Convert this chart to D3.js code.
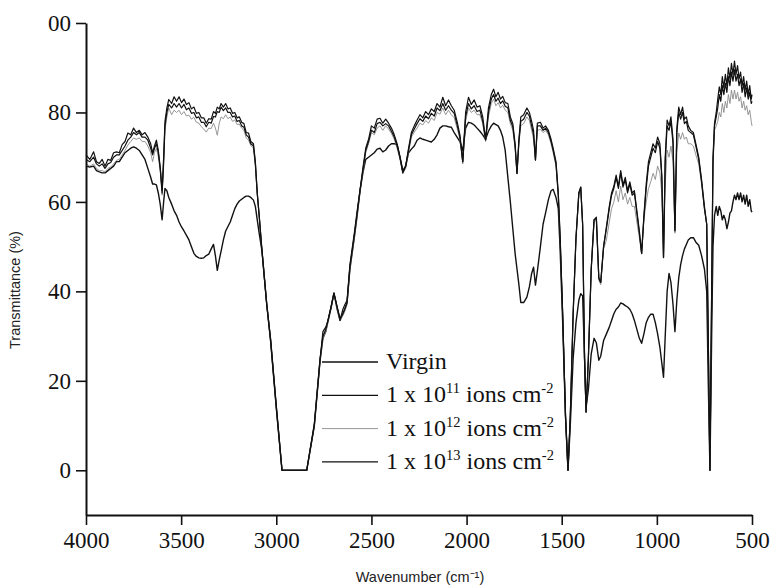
<!DOCTYPE html>
<html>
<head>
<meta charset="utf-8">
<script src="https://cdn.jsdelivr.net/npm/d3@7"></script>
<style>
  body { margin: 0; background: #fff; }
  svg { display: block; }
</style>
</head>
<body>
<div id="chart"></div>
<script>
const d3 = window.d3;

// wavenumber grid (cm-1), descending, shared by all four spectra
const wavenumbers = [
  4000, 3980, 3960, 3945, 3930, 3915, 3900, 3885, 3870, 3855, 3840, 3825, 3810, 3795, 3780, 3765, 3750, 3735, 3720, 3705, 3690, 3675, 3660, 3650, 3640, 3630, 3620, 3610, 3600, 3592, 3585, 3575, 3565,
  3550, 3537, 3524, 3511, 3498, 3485, 3472, 3459, 3446, 3433, 3420, 3407, 3394, 3381, 3368, 3355, 3342, 3330, 3320, 3310, 3300, 3290, 3278, 3266, 3254, 3242, 3230, 3218, 3206, 3194, 3182, 3170, 3158, 3146, 3134, 3120,
  3110, 3100, 3090, 3075, 3050, 3030, 3000, 2970, 2840, 2800, 2770, 2755, 2740, 2728, 2712, 2697, 2680, 2665, 2650, 2640, 2628, 2613, 2590, 2575, 2560,
  2545, 2530, 2515, 2500, 2485, 2470, 2455, 2440, 2425, 2410, 2395, 2380, 2365, 2350, 2335, 2320, 2305, 2290, 2275, 2260, 2245, 2230, 2215, 2200, 2185, 2170, 2155, 2140, 2125, 2110, 2095, 2080, 2065, 2050, 2035, 2020,
  2005, 1990, 1975, 1960, 1945, 1930, 1915, 1900, 1885, 1870, 1858, 1846, 1834, 1822, 1810, 1797, 1783, 1770, 1757, 1745, 1735, 1725, 1715, 1700, 1683, 1670, 1658, 1648, 1638, 1628, 1612, 1598, 1585, 1570, 1556, 1545,
  1530, 1518, 1508, 1495, 1480, 1467, 1455, 1440, 1425, 1410, 1400, 1390, 1380, 1372, 1360, 1345, 1330, 1318, 1305, 1295, 1280, 1265, 1250, 1238, 1226, 1214, 1202, 1190, 1178, 1166, 1154, 1142, 1130, 1118, 1105, 1092, 1080,
  1068, 1056, 1044, 1032, 1020, 1008, 996, 984, 974, 965, 956, 946, 936, 926, 915, 905, 895, 885, 875, 865, 855, 845, 835, 822, 808, 795, 780, 765, 750, 738, 730, 721,
  712, 705, 697, 688, 680, 672, 664, 656, 648, 640, 632, 624, 616, 608, 600, 592, 584, 576, 568, 560, 552, 544, 536, 528, 520, 512, 504, 500,
];

// transmittance (%) per spectrum
const virgin = [
  70.5, 69.5, 71.2, 69, 68.6, 69.5, 68, 69.5, 69.3, 71, 71.2, 71, 72.8, 73.5, 75.4, 75, 76.5, 75.5, 76, 75, 75.5, 74.5, 73, 71, 72.5, 73.8, 71.5, 67.8, 62.6, 70, 78, 81, 82.9,
  82, 83.5, 82.5, 83.5, 82.2, 83, 81.8, 82.2, 80.8, 81.2, 79.8, 80, 78.8, 78.8, 77.6, 78.6, 78.5, 80.2, 79.8, 81.2, 80.8, 82, 81.2, 82, 80.8, 81, 79.8, 80, 78.8, 79, 77.8, 77.5, 75.5, 75.4, 73.5, 73,
  69, 62, 57, 49, 37, 29, 14, 0, 0, 10, 24.6, 31, 32, 33.5, 36.5, 39.6, 36.5, 33.5, 36, 37, 38, 46, 53, 58, 62.6,
  67.5, 72, 74, 77, 76.5, 78.5, 78.7, 77.6, 78.5, 77.6, 76.5, 75, 73, 70, 66.5, 68, 72, 75.5, 77, 78.3, 79.5, 78.8, 80.2, 79.5, 80.8, 80.2, 82, 81.2, 83.4, 81.5, 82.8, 81.5, 80.5, 78, 75, 69,
  80, 83.4, 81.8, 82.8, 81.2, 81.5, 79, 74, 81, 84, 85.2, 83.5, 84.5, 83, 83.6, 82.2, 82, 79, 77.5, 73, 66.4, 74, 79, 79.5, 81, 80, 78, 76, 69.4, 77.6, 77.8, 76.5, 77, 76, 74, 72,
  69, 62, 52, 35, 12, 0, 12, 35, 52, 62, 63.3, 55, 25, 13, 25, 45, 56, 56.6, 43, 42, 50, 54.5, 59, 62, 63.5, 66, 63.5, 67, 63.8, 65.5, 62.5, 64.5, 62, 62.5, 58, 53.5, 48.5,
  57, 64, 69, 71, 73, 72, 74.5, 73, 66, 47.6, 70, 78.3, 77, 79, 74, 53.7, 76.5, 81.2, 79.5, 81.2, 78.5, 79, 77, 76, 75.5, 73, 70, 65, 59, 55, 30, 0,
  40, 70, 77.6, 80, 83, 85.7, 84, 88, 85.5, 88.5, 86, 90, 87.5, 91, 88.5, 91.5, 88.5, 90.5, 87.5, 89, 86, 88, 85, 87, 84, 86, 83, 84,
];
const dose11 = [
  69.5, 69, 70, 68.5, 68, 68.5, 67.5, 68.5, 68.8, 70, 70.5, 70.5, 71.5, 72.5, 73.8, 74.5, 75.5, 75, 75.5, 74.5, 74.5, 73.8, 72, 70.5, 72, 73, 71, 67.5, 62, 69, 77, 80, 81.8,
  81, 82, 81.2, 82, 81, 81.8, 80.6, 81, 79.8, 80, 78.8, 79, 77.8, 77.8, 76.8, 77.8, 77.6, 79.1, 79, 80.2, 80, 81.2, 80.4, 81, 80, 80, 79, 79.2, 78, 78.2, 77, 76.7, 75, 74.5, 73, 72.5,
  68.5, 62, 57, 49, 37, 29.5, 14.5, 0, 0, 10.5, 25, 30, 31.5, 33.5, 36.5, 39.6, 36.5, 34, 35, 36, 37.5, 45.5, 52.5, 57.5, 62.5,
  67, 71.5, 73.5, 76, 75.5, 77.5, 77.8, 77, 77.5, 77, 75.8, 74.5, 72.5, 70, 66.7, 68, 71.5, 75, 76.3, 77.5, 78.6, 78, 79.2, 78.6, 79.8, 79.2, 81, 80.4, 82, 80.5, 81.5, 80.5, 79.8, 77.3, 74.5, 69,
  79, 82, 80.8, 81.5, 80.2, 80.5, 78, 73.8, 80, 83, 84, 82.5, 83.2, 82, 82.6, 81.4, 81, 78.2, 76.8, 72.5, 66.4, 73.5, 78, 78.5, 80, 79.2, 77, 75, 69.4, 77, 77, 76, 76.5, 75.5, 73.5, 71.5,
  68.5, 61.5, 51.5, 35, 12, 0, 12, 35, 52, 62, 63.3, 55, 25, 13, 25, 45, 56, 56.3, 43, 42, 50, 54, 58.5, 61.5, 63, 65.5, 63, 66.5, 63.3, 65, 62, 64, 61.5, 62, 57.5, 53, 48.5,
  56.5, 63, 68, 70, 72, 71, 73.5, 72, 65.5, 47.6, 69, 77, 76, 78, 73, 53.5, 75.5, 80, 78.5, 80, 77.5, 78, 76, 75.5, 75, 72.5, 69.5, 64.5, 58.5, 55, 30, 0,
  40, 69, 77, 79, 81, 84, 82.5, 86, 84, 86.5, 84.5, 88, 86, 89, 87, 89.5, 87, 88.5, 86, 87.5, 84.5, 86.5, 83.5, 85.5, 83, 84.5, 82, 82.5,
];
const dose12 = [
  68.5, 68, 68.5, 67.5, 67, 67, 66.7, 67.5, 67.8, 68.5, 69.3, 69.5, 70.5, 71.5, 72.7, 73.5, 74.3, 74, 74.3, 73.5, 73.5, 72.5, 71, 69, 71, 72, 70, 67, 61.5, 68, 76, 79, 81,
  79.5, 80.5, 80, 80.5, 79.5, 80.2, 79.2, 79.4, 78.5, 78.9, 77.8, 77.6, 76.8, 76.3, 75.6, 76.5, 76.4, 77.6, 76.5, 74.9, 77.5, 79, 78.6, 79.5, 78.6, 79, 78, 78.3, 77.3, 77.4, 76.5, 76, 74.3, 73.8, 72.6, 72,
  68, 61.5, 57, 49, 37, 29, 14, 0, 0, 10, 24.5, 29.5, 31, 33, 36, 39.3, 36, 33.5, 34.5, 35.5, 37, 45, 52, 57, 62,
  66.5, 71, 73, 75.5, 75, 76.5, 77, 76, 77, 76.3, 75.3, 74, 72, 69.5, 66.3, 67.5, 71, 74.5, 75.6, 76.5, 77.6, 77.2, 78.2, 77.6, 78.8, 78.2, 80, 79.6, 81, 79.5, 80.5, 79.5, 78.8, 76.5, 74, 68.5,
  78, 81, 80, 80.5, 79.5, 79.5, 77.5, 73.5, 79, 82, 83, 81.5, 82.2, 81, 81.6, 80.5, 80, 77.5, 76, 72, 66.2, 73, 77, 77.5, 79, 78.2, 76, 74, 69.2, 76, 76.2, 75.5, 76, 75, 73, 71,
  68, 61, 51, 35, 12, 0, 12, 34.5, 51.5, 61.5, 63, 54.5, 25, 13, 25, 44.5, 55.5, 56, 42.5, 41.5, 49.5, 51.5, 55.5, 58.5, 60, 62.5, 60, 63.5, 60.5, 62, 59.5, 61, 59, 59, 55.5, 52, 48.3,
  56, 60, 63, 64.5, 66.4, 65, 68, 66.5, 62, 47.4, 64, 71.6, 70, 72.5, 69, 53, 71, 75.4, 74, 75.5, 74, 74.5, 73, 73, 72.5, 70.5, 68.5, 64, 58.5, 55, 30, 0,
  40, 68, 76, 77, 78, 80, 79, 82, 80, 82.5, 81, 84, 82, 85, 83, 85, 83, 84.5, 82.5, 83.5, 81, 82.5, 80.5, 81.5, 79.5, 80.5, 78, 77,
];
const dose13 = [
  68, 67.8, 68, 67, 66.7, 66.5, 66.5, 67, 67.5, 68, 69, 69, 70, 71, 71.5, 72, 72.3, 72, 71.5, 70.5, 69.5, 67.5, 65.5, 64, 64, 63.8, 62, 59.5, 56, 60, 63, 62.5, 61,
  59.5, 58, 57, 55.5, 54.4, 53.5, 52.5, 51.5, 50, 48.5, 47.8, 47.5, 47.4, 47.5, 48, 48.3, 49.5, 50.5, 48, 44.7, 47, 49, 51.5, 53.5, 54.5, 55.5, 57, 58.5, 59.5, 60.2, 60.6, 61, 61.3, 61.3, 61, 60.4,
  59, 56, 53, 49, 37, 29, 14, 0, 0, 10, 24.5, 29.5, 31, 33.5, 36.5, 39.6, 36, 33.5, 35, 36, 37.5, 45, 52, 57, 62.5,
  66.5, 69.5, 70, 70.5, 71, 71.8, 72, 71.2, 71.6, 72.5, 73, 73, 72.8, 70, 67, 68, 71, 71.8, 72.5, 73.8, 74.3, 74, 73.8, 73.6, 73.4, 74, 75, 76.5, 77, 77, 76.8, 76.7, 75.5, 74.5, 73.5, 71.5,
  76.5, 77.8, 77.6, 77.2, 76.5, 75.8, 75, 74, 75.8, 77, 77.6, 77.3, 77, 76, 74.5, 71.5, 65.5, 60, 54, 48.5, 45, 41.5, 37.5, 37.5, 38.7, 41, 44, 45.4, 41.4, 44.5, 50, 55, 57.5, 60.5, 62.5, 62.8,
  61, 58.5, 49, 33, 12, 0, 10, 25, 33, 38, 39.5, 39, 25, 14, 18, 26, 29.5, 28.5, 24.6, 25.5, 29, 30.5, 32, 33.5, 35, 36, 36.5, 37.4, 37.2, 36.8, 36.5, 36, 35, 33.5, 31.5, 29.5, 28.4,
  30.5, 33, 34.2, 34.9, 34.9, 33, 30.5, 27.5, 24, 20.8, 30, 40, 44, 42, 37, 31, 38, 43, 46, 48, 49.5, 50.5, 51.5, 52, 52, 51, 50.3, 48, 45, 40, 20, 0,
  30, 50, 57, 59, 57, 59, 58, 56, 57, 56, 54, 55.5, 57.5, 58, 60, 61.5, 60.5, 62, 60.5, 62, 60, 61.5, 59.5, 61.5, 59, 60.5, 58, 57.7,
];

const seriesNames = ["Virgin", "1 x 10|11| ions cm|-2", "1 x 10|12| ions cm|-2", "1 x 10|13| ions cm|-2"];
const xMajorTicks = [4000, 3500, 3000, 2500, 2000, 1500, 1000, 500];
const yMajorTicks = [0, 20, 40, 60, 80, 100];

const W = 771;
const H = 586;
const serif = "'Liberation Serif', 'Times New Roman', serif";
const sans = "'Liberation Sans', Arial, sans-serif";

const series = [
  { name: seriesNames[3], values: dose13, stroke: "#111", width: 1.4 },
  { name: seriesNames[2], values: dose12, stroke: "#8a8a8a", width: 0.9 },
  { name: seriesNames[1], values: dose11, stroke: "#111", width: 1.2 },
  { name: seriesNames[0], values: virgin, stroke: "#111", width: 1.2 },
];

const x = d3.scaleLinear().domain([4000, 500]).range([86, 752]);
const y = d3.scaleLinear().domain([-10, 100]).range([515, 23]);

const svg = d3.select("#chart").append("svg").attr("width", W).attr("height", H);
svg.append("rect").attr("width", W).attr("height", H).attr("fill", "#fff");

drawSpectra();
drawAxes();
drawLegend();

function drawSpectra() {
  const line = d3
    .line()
    .x((d) => x(d[0]))
    .y((d) => y(d[1]));
  const g = svg.append("g").attr("fill", "none").attr("stroke-linejoin", "round");
  for (const s of series) {
    const pts = wavenumbers.map((w, i) => [w, s.values[i]]).filter((p) => Number.isFinite(p[1]));
    g.append("path").attr("d", line(pts)).attr("stroke", s.stroke).attr("stroke-width", s.width);
  }
}

function drawAxes() {
  const xMinor = d3.range(4000, 499, -100).filter((v) => !xMajorTicks.includes(v));
  const yMinor = d3.range(-10, 101, 5).filter((v) => !yMajorTicks.includes(v));

  const gx = svg.append("g").attr("transform", `translate(0,${y(-10)})`);
  gx.call(d3.axisBottom(x).tickValues(xMinor).tickSize(6).tickSizeOuter(0).tickFormat(""));
  gx.call(d3.axisBottom(x).tickValues(xMajorTicks).tickSize(10).tickSizeOuter(0).tickPadding(7).tickFormat(d3.format("d")));

  const gy = svg.append("g").attr("transform", `translate(${x(4000)},0)`);
  gy.call(d3.axisLeft(y).tickValues(yMinor).tickSize(6).tickSizeOuter(0).tickFormat(""));
  gy.call(
    d3
      .axisLeft(y)
      .tickValues(yMajorTicks)
      .tickSize(10)
      .tickSizeOuter(0)
      .tickPadding(5)
      .tickFormat((d) => (d === 100 ? "00" : d)), // the top label is cut off in the source figure
  );

  for (const g of [gx, gy]) {
    g.selectAll(".domain").attr("stroke", "#111").attr("stroke-width", 2);
    g.selectAll(".tick line").attr("stroke", "#111").attr("stroke-width", 1.6);
    g.selectAll(".tick text").attr("fill", "#111").style("font-family", serif).style("font-size", "23px");
  }

  svg
    .append("text")
    .attr("x", 420)
    .attr("y", 582)
    .attr("text-anchor", "middle")
    .style("font-family", sans)
    .style("font-size", "14.5px")
    .attr("fill", "#222")
    .text("Wavenumber (cm⁻¹)");

  svg
    .append("text")
    .attr("transform", "translate(20,290) rotate(-90)")
    .attr("text-anchor", "middle")
    .style("font-family", sans)
    .style("font-size", "14.5px")
    .attr("fill", "#222")
    .text("Transmittance (%)");
}

function drawLegend() {
  const rows = [
    { label: seriesNames[0], stroke: "#111", width: 1.3 },
    { label: seriesNames[1], stroke: "#111", width: 1.3 },
    { label: seriesNames[2], stroke: "#8a8a8a", width: 0.9 },
    { label: seriesNames[3], stroke: "#111", width: 1.3 },
  ];
  const g = svg.append("g");
  rows.forEach((r, i) => {
    const ly = 362 + i * 33.3;
    g.append("line")
      .attr("x1", 322)
      .attr("x2", 378)
      .attr("y1", ly)
      .attr("y2", ly)
      .attr("stroke", r.stroke)
      .attr("stroke-width", r.width);
    const t = g
      .append("text")
      .attr("x", 386)
      .attr("y", ly + 7)
      .attr("fill", "#111")
      .style("font-family", serif)
      .style("font-size", "24px");
    // parts alternate normal / superscript
    const parts = r.label.split("|");
    parts.forEach((p, k) => {
      const sup = k % 2 === 1;
      const ts = t.append("tspan").text(p);
      if (sup) {
        ts.style("font-size", "14.5px").attr("dy", -9);
      } else if (k > 0) {
        ts.attr("dy", 9);
      }
    });
  });
}
</script>
</body>
</html>
